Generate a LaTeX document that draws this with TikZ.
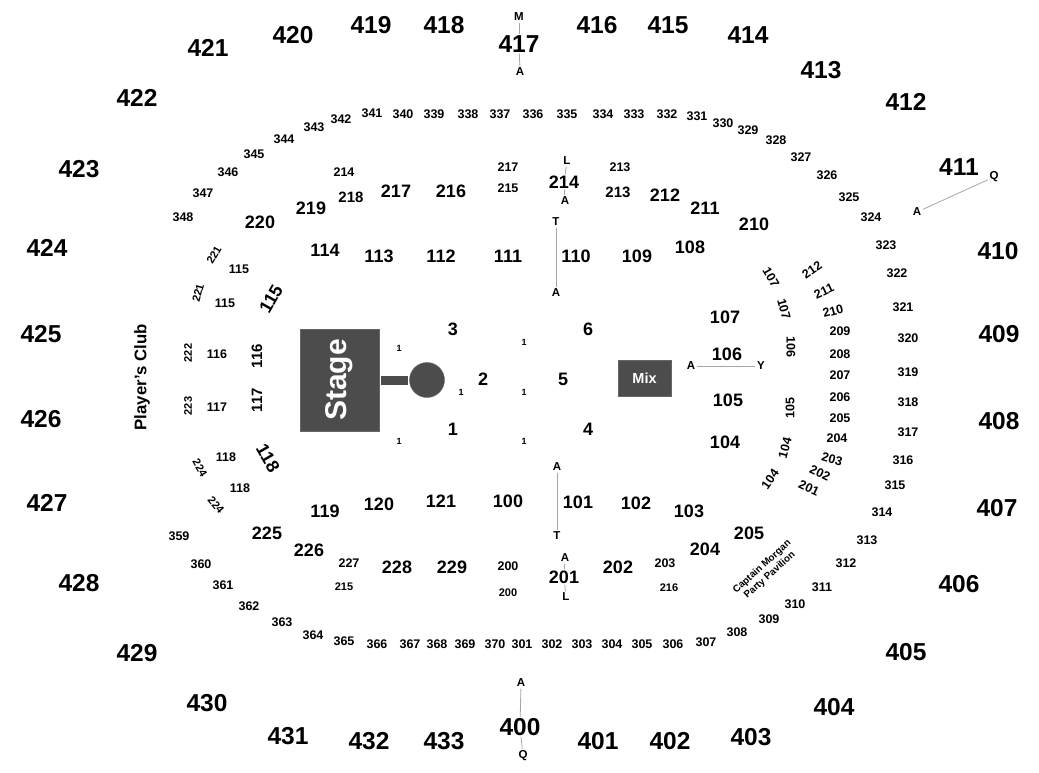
\documentclass[tikz,border=0pt]{standalone}
\usepackage{fontspec}
\setmainfont{Liberation Sans}
\tikzset{
  upper/.style={font=\fontsize{24.5}{26}\bfseries, inner sep=1pt, text=black},
  lower/.style={font=\fontsize{18}{20}\bfseries, inner sep=1pt, text=black},
  club/.style={font=\fontsize{15}{17}\bfseries, inner sep=1pt, text=black},
  row/.style={font=\fontsize{12.5}{14}\bfseries, inner sep=1pt, text=black},
  thin row/.style={font=\fontsize{11}{13}\bfseries, inner sep=1pt, text=black},
  pit/.style={font=\fontsize{9}{10}\bfseries, inner sep=1pt, text=black},
  letter/.style={font=\fontsize{11.5}{13}\bfseries, inner sep=1.5pt, text=black},
  aisle/.style={draw=black!35, line width=0.8pt},
  block/.style={draw=black!60, fill=black!70, text=white, inner sep=0pt}
}
\begin{document}
\begin{tikzpicture}[x=1pt,y=-1pt]
\useasboundingbox (0,0) rectangle (1039,772);
% upper ring
\node[upper] (u400) at (520,727) {400};
\node[upper] (u401) at (598,741) {401};
\node[upper] (u402) at (670,741) {402};
\node[upper] (u403) at (751,737) {403};
\node[upper] (u404) at (834,707) {404};
\node[upper] (u405) at (906,652) {405};
\node[upper] (u406) at (959,584) {406};
\node[upper] (u407) at (997,508) {407};
\node[upper] (u408) at (999,421) {408};
\node[upper] (u409) at (999,334) {409};
\node[upper] (u410) at (998,251) {410};
\node[upper] (u411) at (959,167) {411};
\node[upper] (u412) at (906,102) {412};
\node[upper] (u413) at (821,70) {413};
\node[upper] (u414) at (748,35) {414};
\node[upper] (u415) at (668,25) {415};
\node[upper] (u416) at (597,25) {416};
\node[upper] (u417) at (519,44) {417};
\node[upper] (u418) at (444,25) {418};
\node[upper] (u419) at (371,25) {419};
\node[upper] (u420) at (293,35) {420};
\node[upper] (u421) at (208,48) {421};
\node[upper] (u422) at (137,98) {422};
\node[upper] (u423) at (79,169) {423};
\node[upper] (u424) at (47,248) {424};
\node[upper] (u425) at (41,334) {425};
\node[upper] (u426) at (41,419) {426};
\node[upper] (u427) at (47,503) {427};
\node[upper] (u428) at (79,583) {428};
\node[upper] (u429) at (137,653) {429};
\node[upper] (u430) at (207,703) {430};
\node[upper] (u431) at (288,736) {431};
\node[upper] (u432) at (369,741) {432};
\node[upper] (u433) at (444,741) {433};
% upper ring aisles
\node[letter] (m417) at (519,17) {M};
\node[letter] (a417) at (520,72) {A};
\node[letter] (a411) at (917,212) {A};
\node[letter] (q411) at (994,177) {Q};
\node[letter] (a400) at (521,683) {A};
\node[letter] (q400) at (523,756) {Q};
\draw[aisle] (m417) -- (u417);
\draw[aisle] (u417) -- (a417);
\draw[aisle] (a411) -- (q411);
\draw[aisle] (a400) -- (u400);
\draw[aisle] (u400) -- (q400);
% row of 300s
\node[row] (r301) at (522,644) {301};
\node[row] (r302) at (552,644) {302};
\node[row] (r303) at (582,644) {303};
\node[row] (r304) at (612,644) {304};
\node[row] (r305) at (642,644) {305};
\node[row] (r306) at (673,644) {306};
\node[row] (r307) at (706,642) {307};
\node[row] (r308) at (737,632) {308};
\node[row] (r309) at (769,619) {309};
\node[row] (r310) at (795,604) {310};
\node[row] (r311) at (822,587) {311};
\node[row] (r312) at (846,563) {312};
\node[row] (r313) at (867,540) {313};
\node[row] (r314) at (882,512) {314};
\node[row] (r315) at (895,485) {315};
\node[row] (r316) at (903,460) {316};
\node[row] (r317) at (908,432) {317};
\node[row] (r318) at (908,402) {318};
\node[row] (r319) at (908,372) {319};
\node[row] (r320) at (908,338) {320};
\node[row] (r321) at (903,307) {321};
\node[row] (r322) at (897,273) {322};
\node[row] (r323) at (886,245) {323};
\node[row] (r324) at (871,217) {324};
\node[row] (r325) at (849,197) {325};
\node[row] (r326) at (827,175) {326};
\node[row] (r327) at (801,157) {327};
\node[row] (r328) at (776,140) {328};
\node[row] (r329) at (748,130) {329};
\node[row] (r330) at (723,123) {330};
\node[row] (r331) at (697,116) {331};
\node[row] (r332) at (667,114) {332};
\node[row] (r333) at (634,114) {333};
\node[row] (r334) at (603,114) {334};
\node[row] (r335) at (567,114) {335};
\node[row] (r336) at (533,114) {336};
\node[row] (r337) at (500,114) {337};
\node[row] (r338) at (468,114) {338};
\node[row] (r339) at (434,114) {339};
\node[row] (r340) at (403,114) {340};
\node[row] (r341) at (372,113) {341};
\node[row] (r342) at (341,119) {342};
\node[row] (r343) at (314,127) {343};
\node[row] (r344) at (284,139) {344};
\node[row] (r345) at (254,154) {345};
\node[row] (r346) at (228,172) {346};
\node[row] (r347) at (203,193) {347};
\node[row] (r348) at (183,217) {348};
\node[row] (r359) at (179,536) {359};
\node[row] (r360) at (201,564) {360};
\node[row] (r361) at (223,585) {361};
\node[row] (r362) at (249,606) {362};
\node[row] (r363) at (282,622) {363};
\node[row] (r364) at (313,635) {364};
\node[row] (r365) at (344,641) {365};
\node[row] (r366) at (377,644) {366};
\node[row] (r367) at (410,644) {367};
\node[row] (r368) at (437,644) {368};
\node[row] (r369) at (465,644) {369};
\node[row] (r370) at (495,644) {370};
% club level
\node[lower] (c220) at (260,222) {220};
\node[lower] (c219) at (311,208) {219};
\node[club] (c218) at (351,197) {218};
\node[row] (c214b) at (344,172) {214};
\node[lower] (c217) at (396,191) {217};
\node[lower] (c216) at (451,191) {216};
\node[row] (c217b) at (508,167) {217};
\node[row] (c215b) at (508,188) {215};
\node[lower] (c214) at (564,182) {214};
\node[row] (c213b) at (620,167) {213};
\node[club] (c213) at (618,192) {213};
\node[lower] (c212) at (665,195) {212};
\node[lower] (c211) at (705,208) {211};
\node[lower] (c210) at (754,224) {210};
\node[lower] (c225) at (267,533) {225};
\node[lower] (c226) at (309,550) {226};
\node[row] (c227) at (349,563) {227};
\node[thin row] (c215) at (344,587) {215};
\node[lower] (c228) at (397,567) {228};
\node[lower] (c229) at (452,567) {229};
\node[row] (c200) at (508,566) {200};
\node[thin row] (c200b) at (508,593) {200};
\node[lower] (c201) at (564,577) {201};
\node[lower] (c202) at (618,567) {202};
\node[row] (c203) at (665,563) {203};
\node[thin row] (c216) at (669,588) {216};
\node[lower] (c204) at (705,549) {204};
\node[lower] (c205) at (749,533) {205};
% lower bowl
\node[lower] (l114) at (325,250) {114};
\node[lower] (l113) at (379,256) {113};
\node[lower] (l112) at (441,256) {112};
\node[lower] (l111) at (508,256) {111};
\node[lower] (l110) at (576,256) {110};
\node[lower] (l109) at (637,256) {109};
\node[lower] (l108) at (690,247) {108};
\node[lower] (l107) at (725,317) {107};
\node[lower] (l106) at (727,354) {106};
\node[lower] (l105) at (728,400) {105};
\node[lower] (l104) at (725,442) {104};
\node[lower] (l103) at (689,511) {103};
\node[lower] (l102) at (636,503) {102};
\node[lower] (l101) at (578,502) {101};
\node[lower] (l100) at (508,501) {100};
\node[lower] (l121) at (441,501) {121};
\node[lower] (l120) at (379,504) {120};
\node[lower] (l119) at (325,511) {119};
\node[lower, rotate=60] (l115) at (271,299) {115};
\node[club, rotate=90] (l116) at (257,356) {116};
\node[club, rotate=90] (l117) at (257,400) {117};
\node[lower, rotate=-60] (l118) at (268,458) {118};
% side rows on the left
\node[row] (s115a) at (239,269) {115};
\node[row] (s115b) at (225,303) {115};
\node[row] (s116) at (217,354) {116};
\node[row] (s117) at (217,407) {117};
\node[row] (s118a) at (226,457) {118};
\node[row] (s118b) at (240,488) {118};
\node[thin row, rotate=60] (s221a) at (214,255) {221};
\node[thin row, rotate=75] (s221b) at (198,293) {221};
\node[thin row, rotate=90] (s222) at (188,353) {222};
\node[thin row, rotate=90] (s223) at (188,406) {223};
\node[thin row, rotate=-60] (s224a) at (200,468) {224};
\node[thin row, rotate=-50] (s224b) at (216,505) {224};
% side rows on the right
\node[row, rotate=-60] (e107a) at (771,277) {107};
\node[row, rotate=-75] (e107b) at (784,309) {107};
\node[row, rotate=-90] (e106) at (791,347) {106};
\node[row, rotate=90] (e105) at (790,408) {105};
\node[row, rotate=75] (e104a) at (785,448) {104};
\node[row, rotate=55] (e104b) at (770,479) {104};
\node[row, rotate=35] (e212) at (812,270) {212};
\node[row, rotate=25] (e211) at (824,291) {211};
\node[row, rotate=15] (e210) at (833,311) {210};
\node[row] (e209) at (840,331) {209};
\node[row] (e208) at (840,354) {208};
\node[row] (e207) at (840,375) {207};
\node[row] (e206) at (840,397) {206};
\node[row] (e205) at (840,418) {205};
\node[row] (e204) at (837,438) {204};
\node[row, rotate=-15] (e203) at (832,459) {203};
\node[row, rotate=-25] (e202) at (820,473) {202};
\node[row, rotate=-25] (e201) at (809,488) {201};
\node[font=\fontsize{9.8}{11.5}\bfseries, align=center, rotate=42, inner sep=0pt] (pavilion) at (766,571) {Captain Morgan\\Party Pavilion};
\node[font=\fontsize{16.8}{18}\bfseries, rotate=90, inner sep=1pt] (players) at (142,377) {Player's Club};
% floor
\node[lower] (f1) at (453,429) {1};
\node[lower] (f2) at (483,379) {2};
\node[lower] (f3) at (453,329) {3};
\node[lower] (f4) at (588,429) {4};
\node[lower] (f5) at (563,379) {5};
\node[lower] (f6) at (588,329) {6};
\node[pit] (p1) at (399,348) {1};
\node[pit] (p2) at (524,342) {1};
\node[pit] (p3) at (461,392) {1};
\node[pit] (p4) at (524,392) {1};
\node[pit] (p5) at (399,441) {1};
\node[pit] (p6) at (524,441) {1};
\node[block, minimum width=79pt, minimum height=102pt] (stage) at (339.5,380) {};
\node[font=\fontsize{30}{32}\bfseries, text=white, rotate=90, inner sep=0pt] (stagename) at (stage.center) {Stage};
\node[block, circle, minimum size=35pt] (pin) at (427,380) {};
\draw[draw=black!70, line width=9pt, shorten <=2pt, shorten >=1pt] (stage) -- (pin);
\node[block, minimum width=53pt, minimum height=36pt, font=\fontsize{14.5}{16}\bfseries] (mix) at (644.5,378) {Mix};
% lower bowl aisles
\node[letter] (l214) at (567,161) {L};
\node[letter] (a214) at (565,201) {A};
\node[letter] (t110) at (556,222) {T};
\node[letter] (a110) at (556,293) {A};
\node[letter] (a106) at (691,366) {A};
\node[letter] (y106) at (761,366) {Y};
\node[letter] (a101) at (557,467) {A};
\node[letter] (t101) at (557,536) {T};
\node[letter] (a201) at (565,558) {A};
\node[letter] (l201) at (566,597) {L};
\draw[aisle] (l214) -- (c214);
\draw[aisle] (c214) -- (a214);
\draw[aisle] (t110) -- (a110);
\draw[aisle] (a106) -- (y106);
\draw[aisle] (a101) -- (t101);
\draw[aisle] (a201) -- (c201);
\draw[aisle] (c201) -- (l201);
\end{tikzpicture}
\end{document}
